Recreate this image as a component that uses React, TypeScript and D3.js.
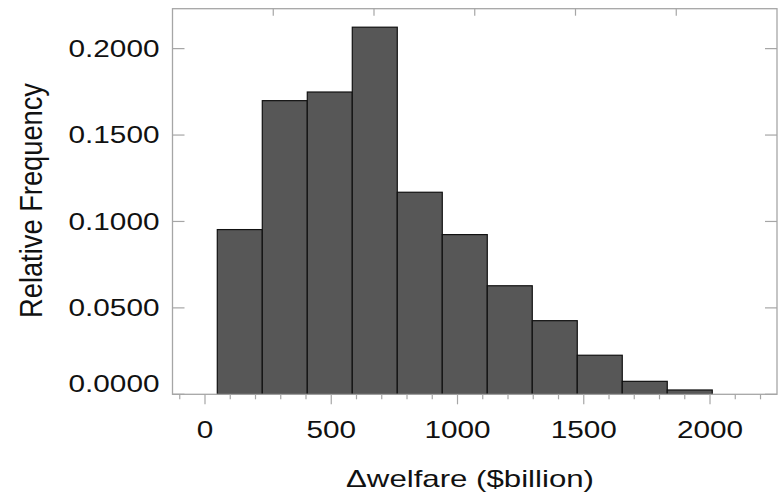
import React from "react";
import * as d3 from "d3";

const binEdges = [48.7, 226.9, 405.1, 583.3, 761.5, 939.7, 1117.9, 1296.1, 1474.3, 1652.5, 1830.7, 2008.9];
const frequencies = [0.0953, 0.1699, 0.1749, 0.2124, 0.1169, 0.0924, 0.0628, 0.0426, 0.0226, 0.0075, 0.0025];
const xMajorTicks = [0, 500, 1000, 1500, 2000];
const xMinorTicks = [-100, 100, 200, 300, 400, 600, 700, 800, 900, 1100, 1200, 1300, 1400, 1600, 1700, 1800, 1900, 2100, 2200];
const yTicks = [0, 0.05, 0.1, 0.15, 0.2];
const xTitle = "Δwelfare ($billion)";
const yTitle = "Relative Frequency";

const W = 778;
const H = 494;
const L = 172.5, R = 777, T = 8.7, B = 394.3;
const SX = 1.277;
const FONT = "'Liberation Sans', Arial, Helvetica, sans-serif";
const AXC = "#a6a6a6";

export default function App() {
  const x = d3.scaleLinear().domain([-128.7, 2265.3]).range([L, R]);
  const y = d3.scaleLinear().domain([0, 0.2231]).range([B, T]);
  const fmt = d3.format(".4f");
  const bins = frequencies.map((f, i) => ({ x0: binEdges[i], x1: binEdges[i + 1], f }));
  const topTicks = [1, 2, 3, 4, 5].map((k) => L + ((R - L) * k) / 6);

  return (
    <svg
      width={W}
      height={H}
      style={{ position: "absolute", left: 0, top: 0, background: "#fff" }}
      fontFamily={FONT}
    >
      <rect x={0} y={0} width={W} height={H} fill="#fff" />
      {bins.map((b, i) => (
        <rect
          key={i}
          x={x(b.x0)}
          y={y(b.f)}
          width={x(b.x1) - x(b.x0)}
          height={y(0) - y(b.f)}
          fill="#575757"
          stroke="#111"
          strokeWidth={1.2}
        />
      ))}
      {/* frame */}
      <rect x={L} y={T} width={R - L} height={B - T} fill="none" stroke={AXC} strokeWidth={1.3} />
      {/* left & right ticks */}
      {yTicks.map((v) => (
        <g key={"yt" + v}>
          <line x1={L} x2={L + 12} y1={y(v)} y2={y(v)} stroke={AXC} strokeWidth={1.2} />
          <line x1={R - 12} x2={R} y1={y(v)} y2={y(v)} stroke={AXC} strokeWidth={1.2} />
        </g>
      ))}
      {/* top ticks */}
      {topTicks.map((px, i) => (
        <line key={"tt" + i} x1={px} x2={px} y1={T} y2={T + 7} stroke={AXC} strokeWidth={1.2} />
      ))}
      {/* bottom ticks */}
      {xMinorTicks.map((v) => (
        <line key={"xm" + v} x1={x(v)} x2={x(v)} y1={B} y2={B + 5} stroke={AXC} strokeWidth={1.2} />
      ))}
      {xMajorTicks.map((v) => (
        <line key={"xM" + v} x1={x(v)} x2={x(v)} y1={B} y2={B + 10} stroke={AXC} strokeWidth={1.2} />
      ))}
      {/* y tick labels */}
      {yTicks.map((v) => {
        const cy = Math.min(y(v), B - 10.5);
        return (
          <text
            key={"yl" + v}
            transform={`translate(159.5,${cy}) scale(${SX},1)`}
            textAnchor="end"
            dy="0.35em"
            fontSize={23.3}
            fill="#111"
          >
            {fmt(v)}
          </text>
        );
      })}
      {/* x tick labels */}
      {xMajorTicks.map((v) => (
        <text
          key={"xl" + v}
          transform={`translate(${x(v)},438.3) scale(${SX},1)`}
          textAnchor="middle"
          fontSize={23.3}
          fill="#111"
        >
          {v}
        </text>
      ))}
      {/* x title */}
      <text
        transform={`translate(470,486.5) scale(${SX},1)`}
        textAnchor="middle"
        fontSize={23.8}
        fill="#111"
        textLength={248 / SX}
        lengthAdjust="spacingAndGlyphs"
      >
        {xTitle}
      </text>
      {/* y title */}
      <text
        transform={`translate(42,200.5) scale(${SX},1) rotate(-90)`}
        textAnchor="middle"
        fontSize={24}
        fill="#111"
        textLength={235}
        lengthAdjust="spacingAndGlyphs"
      >
        {yTitle}
      </text>
    </svg>
  );
}
